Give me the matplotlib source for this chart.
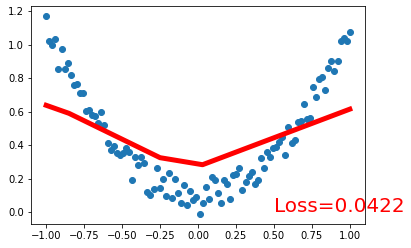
import numpy as np
import matplotlib
matplotlib.use("Agg")
import matplotlib.pyplot as plt

# scatter data: 100 evenly spaced x in [-1, 1], y
x = np.linspace(-1, 1, 100)
y = [1.172, 1.020, 1.000, 1.033, 0.855, 0.974, 0.855, 0.891, 0.820, 0.760,
     0.764, 0.711, 0.711, 0.605, 0.610, 0.580, 0.572, 0.535, 0.595, 0.519,
     0.415, 0.371, 0.395, 0.351, 0.341, 0.355, 0.381, 0.361, 0.192, 0.331,
     0.281, 0.332, 0.293, 0.122, 0.102, 0.136, 0.262, 0.142, 0.196, 0.096,
     0.232, 0.082, 0.196, 0.116, 0.056, 0.162, 0.042, 0.128, 0.072, 0.088,
     -0.012, 0.052, 0.152, 0.076, 0.208, 0.192, 0.114, 0.054, 0.192, 0.168,
     0.076, 0.222, 0.225, 0.265, 0.132, 0.181, 0.216, 0.238, 0.170, 0.190,
     0.326, 0.265, 0.361, 0.331, 0.381, 0.391, 0.421, 0.451, 0.341, 0.507,
     0.411, 0.431, 0.539, 0.545, 0.645, 0.557, 0.561, 0.747, 0.690, 0.793,
     0.807, 0.731, 0.861, 0.905, 0.841, 0.901, 1.024, 1.043, 1.024, 1.076]

# fitted prediction (piecewise linear, knots of the red curve)
pred_x = [-1.0, -0.85, -0.25, 0.03, 1.0]
pred_y = [0.638, 0.590, 0.325, 0.283, 0.615]

loss = 0.0422

fig = plt.figure(figsize=(411 / 72, 248 / 72), dpi=72)
ax = fig.add_axes([31 / 411, 24 / 248, 334 / 411, 218 / 248])
ax.scatter(x, y)
ax.plot(pred_x, pred_y, "r-", lw=5)
ax.text(0.5, 0, "Loss=%.4f" % loss, fontdict={"size": 20, "color": "red"})

fig.savefig("out.png", dpi=72)
